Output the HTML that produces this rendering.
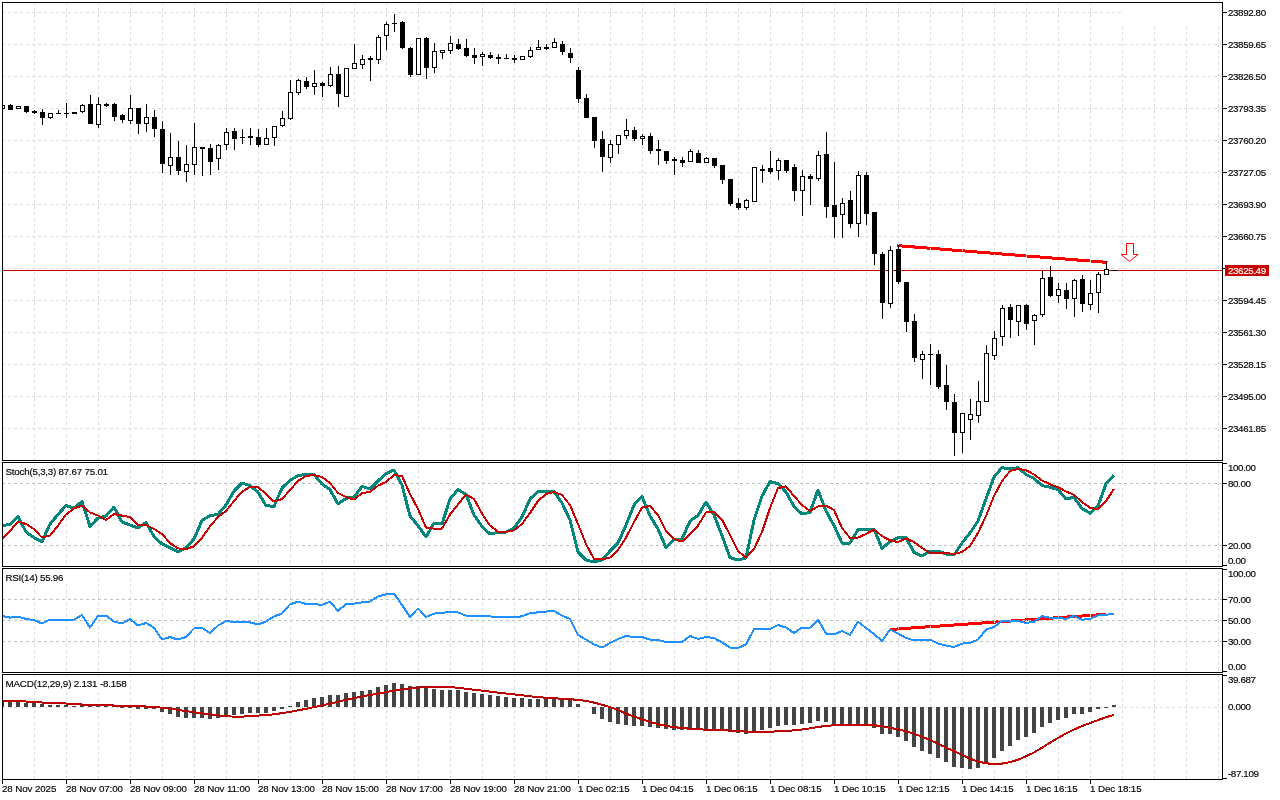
<!DOCTYPE html>
<html><head><meta charset="utf-8"><title>Chart</title>
<style>
html,body{margin:0;padding:0;background:#fff;width:1280px;height:800px;overflow:hidden}
svg{display:block}
text{font-family:'Liberation Sans', Arial, sans-serif}
</style></head><body>
<svg width="1280" height="800" viewBox="0 0 1280 800">
<defs><clipPath id="cmain"><rect x="3" y="3" width="1219" height="457"/></clipPath><clipPath id="cs"><rect x="3" y="463" width="1219" height="103"/></clipPath><clipPath id="cr"><rect x="3" y="569" width="1219" height="103"/></clipPath><clipPath id="cm"><rect x="3" y="675" width="1219" height="104"/></clipPath></defs>
<rect x="0" y="0" width="1280" height="800" fill="#fff"/>
<line x1="897" y1="245.6" x2="1107.5" y2="262.4" stroke="#ff0000" stroke-width="3" shape-rendering="crispEdges"/>
<line x1="890" y1="629.5" x2="1106" y2="614.3" stroke="#ff0000" stroke-width="3" shape-rendering="crispEdges"/>
<path d="M34.5 2V460M66.5 2V460M98.5 2V460M130.5 2V460M162.5 2V460M194.5 2V460M226.5 2V460M258.5 2V460M290.5 2V460M322.5 2V460M354.5 2V460M386.5 2V460M418.5 2V460M450.5 2V460M482.5 2V460M514.5 2V460M546.5 2V460M578.5 2V460M610.5 2V460M642.5 2V460M674.5 2V460M706.5 2V460M738.5 2V460M770.5 2V460M802.5 2V460M834.5 2V460M866.5 2V460M898.5 2V460M930.5 2V460M962.5 2V460M994.5 2V460M1026.5 2V460M1058.5 2V460M1090.5 2V460M1122.5 2V460M1154.5 2V460M1186.5 2V460M1218.5 2V460" stroke="#dcdcdc" stroke-width="1" stroke-dasharray="3 3" stroke-dashoffset="0" fill="none"/>
<path d="M2 12.5H1222" stroke="#dcdcdc" stroke-width="1" stroke-dasharray="3 3" fill="none"/>
<path d="M2 44.5H1222" stroke="#dcdcdc" stroke-width="1" stroke-dasharray="3 3" fill="none"/>
<path d="M2 76.5H1222" stroke="#dcdcdc" stroke-width="1" stroke-dasharray="3 3" fill="none"/>
<path d="M2 108.5H1222" stroke="#dcdcdc" stroke-width="1" stroke-dasharray="3 3" fill="none"/>
<path d="M2 140.5H1222" stroke="#dcdcdc" stroke-width="1" stroke-dasharray="3 3" fill="none"/>
<path d="M2 172.5H1222" stroke="#dcdcdc" stroke-width="1" stroke-dasharray="3 3" fill="none"/>
<path d="M2 204.5H1222" stroke="#dcdcdc" stroke-width="1" stroke-dasharray="3 3" fill="none"/>
<path d="M2 236.5H1222" stroke="#dcdcdc" stroke-width="1" stroke-dasharray="3 3" fill="none"/>
<path d="M2 268.5H1222" stroke="#dcdcdc" stroke-width="1" stroke-dasharray="3 3" fill="none"/>
<path d="M2 300.5H1222" stroke="#dcdcdc" stroke-width="1" stroke-dasharray="3 3" fill="none"/>
<path d="M2 332.5H1222" stroke="#dcdcdc" stroke-width="1" stroke-dasharray="3 3" fill="none"/>
<path d="M2 364.5H1222" stroke="#dcdcdc" stroke-width="1" stroke-dasharray="3 3" fill="none"/>
<path d="M2 396.5H1222" stroke="#dcdcdc" stroke-width="1" stroke-dasharray="3 3" fill="none"/>
<path d="M2 428.5H1222" stroke="#dcdcdc" stroke-width="1" stroke-dasharray="3 3" fill="none"/>
<rect x="1121" y="3" width="101" height="22" fill="#fff"/>
<path d="M34.5 462V566M66.5 462V566M98.5 462V566M130.5 462V566M162.5 462V566M194.5 462V566M226.5 462V566M258.5 462V566M290.5 462V566M322.5 462V566M354.5 462V566M386.5 462V566M418.5 462V566M450.5 462V566M482.5 462V566M514.5 462V566M546.5 462V566M578.5 462V566M610.5 462V566M642.5 462V566M674.5 462V566M706.5 462V566M738.5 462V566M770.5 462V566M802.5 462V566M834.5 462V566M866.5 462V566M898.5 462V566M930.5 462V566M962.5 462V566M994.5 462V566M1026.5 462V566M1058.5 462V566M1090.5 462V566M1122.5 462V566M1154.5 462V566M1186.5 462V566M1218.5 462V566" stroke="#dcdcdc" stroke-width="1" stroke-dasharray="3 3" stroke-dashoffset="4" fill="none"/>
<path d="M2 483.5H1222" stroke="#c0c0c0" stroke-width="1" stroke-dasharray="3 3" fill="none"/>
<path d="M2 545.5H1222" stroke="#c0c0c0" stroke-width="1" stroke-dasharray="3 3" fill="none"/>
<path d="M34.5 568V672M66.5 568V672M98.5 568V672M130.5 568V672M162.5 568V672M194.5 568V672M226.5 568V672M258.5 568V672M290.5 568V672M322.5 568V672M354.5 568V672M386.5 568V672M418.5 568V672M450.5 568V672M482.5 568V672M514.5 568V672M546.5 568V672M578.5 568V672M610.5 568V672M642.5 568V672M674.5 568V672M706.5 568V672M738.5 568V672M770.5 568V672M802.5 568V672M834.5 568V672M866.5 568V672M898.5 568V672M930.5 568V672M962.5 568V672M994.5 568V672M1026.5 568V672M1058.5 568V672M1090.5 568V672M1122.5 568V672M1154.5 568V672M1186.5 568V672M1218.5 568V672" stroke="#dcdcdc" stroke-width="1" stroke-dasharray="3 3" stroke-dashoffset="2" fill="none"/>
<path d="M2 599.5H1222" stroke="#c0c0c0" stroke-width="1" stroke-dasharray="3 3" fill="none"/>
<path d="M2 620.5H1222" stroke="#c0c0c0" stroke-width="1" stroke-dasharray="3 3" fill="none"/>
<path d="M2 641.5H1222" stroke="#c0c0c0" stroke-width="1" stroke-dasharray="3 3" fill="none"/>
<path d="M34.5 674V779M66.5 674V779M98.5 674V779M130.5 674V779M162.5 674V779M194.5 674V779M226.5 674V779M258.5 674V779M290.5 674V779M322.5 674V779M354.5 674V779M386.5 674V779M418.5 674V779M450.5 674V779M482.5 674V779M514.5 674V779M546.5 674V779M578.5 674V779M610.5 674V779M642.5 674V779M674.5 674V779M706.5 674V779M738.5 674V779M770.5 674V779M802.5 674V779M834.5 674V779M866.5 674V779M898.5 674V779M930.5 674V779M962.5 674V779M994.5 674V779M1026.5 674V779M1058.5 674V779M1090.5 674V779M1122.5 674V779M1154.5 674V779M1186.5 674V779M1218.5 674V779" stroke="#dcdcdc" stroke-width="1" stroke-dasharray="3 3" stroke-dashoffset="0" fill="none"/>
<path d="M2 707.5H1226" stroke="#dcdcdc" stroke-width="1" stroke-dasharray="3 3" fill="none"/>
<rect x="3" y="270" width="1219" height="1" fill="#c80000"/>
<g clip-path="url(#cmain)">
<path d="M2 105h1v4h-1zM0 105h5v4h-5zM10 104h1v6h-1zM8 105h5v5h-5zM18 106h1v3h-1zM16 106h5v3h-5zM26 106h1v7h-1zM24 106h5v6h-5zM34 110h1v4h-1zM32 111h5v2h-5zM42 109h1v16h-1zM40 112h5v6h-5zM50 113h1v6h-1zM48 113h5v5h-5zM58 110h1v4h-1zM56 113h5v1h-5zM66 103h1v15h-1zM64 113h5v1h-5zM74 112h1v2h-1zM72 112h5v2h-5zM82 104h1v9h-1zM80 105h5v7h-5zM90 95h1v29h-1zM88 104h5v20h-5zM98 97h1v31h-1zM96 104h5v21h-5zM106 103h1v4h-1zM104 104h5v2h-5zM114 103h1v18h-1zM112 104h5v13h-5zM122 114h1v9h-1zM120 115h5v5h-5zM130 95h1v29h-1zM128 108h5v13h-5zM138 108h1v26h-1zM136 108h5v16h-5zM146 104h1v28h-1zM144 117h5v7h-5zM154 110h1v27h-1zM152 117h5v12h-5zM162 121h1v52h-1zM160 129h5v35h-5zM170 133h1v42h-1zM168 157h5v9h-5zM178 141h1v34h-1zM176 157h5v14h-5zM186 145h1v37h-1zM184 164h5v8h-5zM194 123h1v52h-1zM192 147h5v18h-5zM202 147h1v29h-1zM200 147h5v2h-5zM210 144h1v31h-1zM208 148h5v14h-5zM218 144h1v26h-1zM216 145h5v14h-5zM226 128h1v22h-1zM224 132h5v13h-5zM234 128h1v22h-1zM232 131h5v8h-5zM242 129h1v15h-1zM240 137h5v1h-5zM250 128h1v17h-1zM248 136h5v2h-5zM258 129h1v18h-1zM256 137h5v8h-5zM266 128h1v17h-1zM264 138h5v7h-5zM274 126h1v20h-1zM272 126h5v12h-5zM282 111h1v16h-1zM280 118h5v8h-5zM290 80h1v40h-1zM288 92h5v27h-5zM298 79h1v16h-1zM296 80h5v13h-5zM306 77h1v12h-1zM304 81h5v6h-5zM314 70h1v25h-1zM312 83h5v4h-5zM322 82h1v15h-1zM320 83h5v3h-5zM330 67h1v20h-1zM328 74h5v12h-5zM338 66h1v41h-1zM336 74h5v20h-5zM346 68h1v29h-1zM344 68h5v29h-5zM354 44h1v25h-1zM352 63h5v6h-5zM362 55h1v14h-1zM360 59h5v6h-5zM370 56h1v25h-1zM368 58h5v2h-5zM378 35h1v29h-1zM376 37h5v23h-5zM386 22h1v28h-1zM384 24h5v12h-5zM394 14h1v18h-1zM392 23h5v1h-5zM402 21h1v28h-1zM400 22h5v26h-5zM410 47h1v30h-1zM408 48h5v27h-5zM418 38h1v37h-1zM416 38h5v37h-5zM426 37h1v42h-1zM424 38h5v30h-5zM434 43h1v30h-1zM432 51h5v17h-5zM442 50h1v9h-1zM440 50h5v3h-5zM450 36h1v18h-1zM448 43h5v8h-5zM458 39h1v11h-1zM456 44h5v5h-5zM466 39h1v18h-1zM464 48h5v8h-5zM474 48h1v16h-1zM472 55h5v3h-5zM482 52h1v14h-1zM480 54h5v3h-5zM490 52h1v7h-1zM488 55h5v3h-5zM498 54h1v10h-1zM496 57h5v2h-5zM506 54h1v5h-1zM504 58h5v1h-5zM514 55h1v8h-1zM512 58h5v2h-5zM522 56h1v4h-1zM520 56h5v4h-5zM530 47h1v11h-1zM528 50h5v7h-5zM538 40h1v10h-1zM536 47h5v3h-5zM546 44h1v6h-1zM544 47h5v2h-5zM554 38h1v10h-1zM552 42h5v6h-5zM562 41h1v14h-1zM560 44h5v8h-5zM570 48h1v15h-1zM568 53h5v5h-5zM578 67h1v36h-1zM576 70h5v29h-5zM586 94h1v24h-1zM584 98h5v20h-5zM594 117h1v31h-1zM592 117h5v24h-5zM602 131h1v41h-1zM600 139h5v18h-5zM610 140h1v23h-1zM608 144h5v14h-5zM618 135h1v19h-1zM616 135h5v10h-5zM626 119h1v20h-1zM624 130h5v6h-5zM634 127h1v14h-1zM632 130h5v9h-5zM642 134h1v11h-1zM640 136h5v3h-5zM650 133h1v21h-1zM648 136h5v15h-5zM658 140h1v25h-1zM656 149h5v2h-5zM666 151h1v13h-1zM664 151h5v10h-5zM674 157h1v18h-1zM672 159h5v2h-5zM682 157h1v10h-1zM680 160h5v3h-5zM690 149h1v13h-1zM688 151h5v11h-5zM698 150h1v13h-1zM696 153h5v10h-5zM706 157h1v6h-1zM704 158h5v5h-5zM714 158h1v10h-1zM712 158h5v8h-5zM722 165h1v19h-1zM720 165h5v15h-5zM730 179h1v27h-1zM728 179h5v25h-5zM738 198h1v12h-1zM736 203h5v5h-5zM746 199h1v11h-1zM744 200h5v8h-5zM754 167h1v35h-1zM752 167h5v35h-5zM762 165h1v18h-1zM760 169h5v2h-5zM770 151h1v23h-1zM768 168h5v4h-5zM778 158h1v22h-1zM776 160h5v11h-5zM786 160h1v13h-1zM784 160h5v11h-5zM794 164h1v37h-1zM792 167h5v24h-5zM802 170h1v46h-1zM800 176h5v15h-5zM810 174h1v31h-1zM808 176h5v3h-5zM818 151h1v30h-1zM816 155h5v24h-5zM826 132h1v86h-1zM824 154h5v53h-5zM834 162h1v76h-1zM832 205h5v12h-5zM842 198h1v40h-1zM840 203h5v12h-5zM850 191h1v37h-1zM848 200h5v24h-5zM858 171h1v66h-1zM856 175h5v49h-5zM866 172h1v53h-1zM864 175h5v39h-5zM874 212h1v53h-1zM872 212h5v42h-5zM882 252h1v67h-1zM880 254h5v49h-5zM890 246h1v62h-1zM888 250h5v54h-5zM898 245h1v39h-1zM896 249h5v33h-5zM906 282h1v50h-1zM904 282h5v40h-5zM914 314h1v48h-1zM912 321h5v37h-5zM922 351h1v28h-1zM920 354h5v6h-5zM930 344h1v41h-1zM928 354h5v1h-5zM938 350h1v39h-1zM936 354h5v33h-5zM946 365h1v45h-1zM944 385h5v17h-5zM954 394h1v62h-1zM952 402h5v31h-5zM962 413h1v40h-1zM960 413h5v20h-5zM970 399h1v41h-1zM968 414h5v6h-5zM978 381h1v42h-1zM976 401h5v15h-5zM986 345h1v57h-1zM984 353h5v49h-5zM994 331h1v29h-1zM992 338h5v18h-5zM1002 305h1v41h-1zM1000 308h5v29h-5zM1010 304h1v34h-1zM1008 307h5v13h-5zM1018 305h1v31h-1zM1016 305h5v17h-5zM1026 304h1v26h-1zM1024 305h5v19h-5zM1034 314h1v31h-1zM1032 315h5v6h-5zM1042 271h1v46h-1zM1040 278h5v37h-5zM1050 266h1v31h-1zM1048 277h5v19h-5zM1058 283h1v20h-1zM1056 289h5v7h-5zM1066 283h1v26h-1zM1064 290h5v9h-5zM1074 279h1v38h-1zM1072 280h5v19h-5zM1082 275h1v37h-1zM1080 279h5v25h-5zM1090 280h1v30h-1zM1088 293h5v12h-5zM1098 272h1v41h-1zM1096 274h5v19h-5zM1106 262h1v13h-1zM1104 269h5v6h-5zM1114 270h1v1h-1zM1112 270h5v1h-5z" fill="#000"/>
<path d="M1 106h3v2h-3zM17 107h3v1h-3zM49 114h3v3h-3zM81 106h3v5h-3zM97 105h3v19h-3zM129 109h3v11h-3zM145 118h3v5h-3zM169 158h3v7h-3zM185 165h3v6h-3zM193 148h3v16h-3zM217 146h3v12h-3zM225 133h3v11h-3zM265 139h3v5h-3zM273 127h3v10h-3zM281 119h3v6h-3zM289 93h3v25h-3zM297 81h3v11h-3zM313 84h3v2h-3zM329 75h3v10h-3zM345 69h3v27h-3zM353 64h3v4h-3zM361 60h3v4h-3zM377 38h3v21h-3zM385 25h3v10h-3zM417 39h3v35h-3zM433 52h3v15h-3zM441 51h3v1h-3zM449 44h3v6h-3zM481 55h3v1h-3zM521 57h3v2h-3zM529 51h3v5h-3zM537 48h3v1h-3zM553 43h3v4h-3zM609 145h3v12h-3zM617 136h3v8h-3zM625 131h3v4h-3zM641 137h3v1h-3zM689 152h3v9h-3zM705 159h3v3h-3zM745 201h3v6h-3zM753 168h3v33h-3zM777 161h3v9h-3zM801 177h3v13h-3zM817 156h3v22h-3zM841 204h3v10h-3zM857 176h3v47h-3zM889 251h3v52h-3zM921 355h3v4h-3zM961 414h3v18h-3zM969 415h3v4h-3zM977 402h3v13h-3zM985 354h3v47h-3zM993 339h3v16h-3zM1001 309h3v27h-3zM1017 306h3v15h-3zM1033 316h3v4h-3zM1041 279h3v35h-3zM1057 290h3v5h-3zM1073 281h3v17h-3zM1089 294h3v10h-3zM1097 275h3v17h-3zM1105 270h3v4h-3z" fill="#fff"/>
</g>
<polygon points="1126.5,243.5 1133.5,243.5 1133.5,254.5 1138,254.5 1129.5,261.5 1121,254.5 1126.5,254.5" fill="#fff" stroke="#ff0000" stroke-width="1"/>
<g clip-path="url(#cs)">
<polyline points="2,525.60 10,524.40 18,516.40 26,532.00 34,537.60 42,541.60 50,524.00 58,514.40 66,505.60 74,508.00 82,501.60 90,526.40 98,518.00 106,516.00 114,507.00 122,522.00 130,525.00 138,528.00 146,522.40 154,536.40 162,544.00 170,547.60 178,552.00 186,547.60 194,539.00 202,520.40 210,515.60 218,514.40 226,505.00 234,491.00 242,483.00 250,485.60 258,492.00 266,505.60 274,506.40 282,488.00 290,480.40 298,475.60 306,474.40 314,474.40 322,484.00 330,489.60 338,504.00 346,498.40 354,497.00 362,486.40 370,489.00 378,481.00 386,473.60 394,470.00 402,485.00 410,516.00 418,525.60 426,537.00 434,523.00 442,524.00 450,499.00 458,489.60 466,494.40 474,515.00 482,526.40 490,534.00 498,532.40 506,532.00 514,528.00 522,517.00 530,499.00 538,491.60 546,491.60 554,491.60 562,503.00 570,520.00 578,552.00 586,560.00 594,562.00 602,560.00 610,551.00 618,543.00 626,525.00 634,505.00 642,496.40 650,516.00 658,529.00 666,547.60 674,539.60 682,539.00 690,521.00 698,515.60 706,502.00 714,515.00 722,535.60 730,557.60 738,560.00 746,558.00 754,520.00 762,496.00 770,481.60 778,483.60 786,492.00 794,506.40 802,514.00 810,512.40 818,490.00 826,511.00 834,525.60 842,543.00 850,543.00 858,529.60 866,529.00 874,529.00 882,548.40 890,541.60 898,537.60 906,537.60 914,552.40 922,556.00 930,551.00 938,551.00 946,554.00 954,555.00 962,543.00 970,533.00 978,521.00 986,499.00 994,477.00 1002,467.60 1010,469.00 1018,467.60 1026,474.50 1034,478.40 1042,485.60 1050,487.20 1058,489.60 1066,499.00 1074,497.20 1082,508.60 1090,513.20 1098,506.00 1106,483.70 1114,475.10" fill="none" stroke="#00867a" stroke-width="3" stroke-linejoin="round" stroke-linecap="butt" shape-rendering="crispEdges" />
<polyline points="2,539.00 10,531.00 18,521.60 26,524.00 34,529.00 42,537.60 50,535.60 58,525.60 66,514.40 74,508.40 82,505.60 90,512.40 98,515.60 106,520.00 114,514.00 122,515.60 130,517.00 138,525.00 146,525.00 154,529.00 162,534.00 170,543.00 178,548.40 186,549.00 194,546.40 202,537.60 210,526.40 218,517.00 226,511.00 234,501.00 242,491.60 250,487.00 258,487.00 266,494.00 274,501.60 282,499.00 290,490.00 298,481.00 306,476.00 314,475.00 322,477.00 330,483.00 338,493.00 346,497.00 354,499.60 362,493.00 370,492.00 378,485.60 386,482.00 394,475.00 402,476.00 410,494.00 418,509.00 426,527.60 434,528.60 442,528.60 450,514.40 458,504.40 466,494.40 474,499.00 482,513.60 490,525.60 498,531.60 506,531.60 514,530.40 522,524.00 530,513.00 538,501.00 546,494.00 554,492.00 562,495.00 570,505.00 578,524.00 586,544.00 594,559.00 602,559.60 610,557.60 618,550.00 626,537.60 634,522.00 642,507.60 650,506.00 658,515.00 666,531.00 674,539.00 682,541.60 690,534.00 698,525.60 706,512.40 714,512.00 722,519.60 730,535.00 738,551.00 746,557.60 754,549.00 762,532.00 770,508.00 778,488.00 786,486.40 794,496.00 802,505.00 810,511.00 818,506.40 826,505.60 834,510.00 842,528.00 850,538.00 858,537.60 866,534.00 874,529.60 882,536.00 890,540.40 898,542.00 906,538.40 914,542.00 922,548.00 930,553.00 938,553.00 946,553.00 954,554.00 962,552.00 970,546.00 978,533.00 986,516.00 994,496.00 1002,481.00 1010,471.00 1018,469.00 1026,470.10 1034,474.50 1042,480.40 1050,484.30 1058,487.20 1066,491.50 1074,494.80 1082,502.00 1090,507.70 1098,509.50 1106,501.10 1114,488.90" fill="none" stroke="#c80000" stroke-width="2" stroke-linejoin="round" stroke-linecap="butt" shape-rendering="crispEdges" />
</g>
<g clip-path="url(#cr)">
<polyline points="2,616.00 10,617.60 18,616.60 26,619.00 34,620.00 42,623.60 50,619.60 58,619.60 66,619.60 74,619.60 82,615.00 90,627.60 98,615.60 106,615.60 114,621.60 122,623.60 130,619.00 138,625.60 146,623.00 154,627.60 162,639.60 170,637.00 178,639.60 186,637.00 194,628.40 202,628.00 210,633.00 218,625.60 226,621.00 234,622.00 242,622.00 250,622.40 258,624.40 266,621.60 274,616.40 282,613.60 290,604.40 298,601.60 306,604.00 314,604.00 322,605.00 330,601.60 338,611.00 346,604.00 354,603.60 362,602.40 370,601.60 378,596.40 386,594.40 394,593.60 402,605.00 410,617.00 418,608.40 426,617.00 434,613.60 442,613.00 450,611.60 458,612.40 466,615.60 474,616.00 482,616.00 490,616.40 498,617.00 506,617.00 514,617.00 522,616.40 530,613.00 538,612.40 546,611.60 554,611.00 562,615.60 570,619.00 578,635.00 586,639.60 594,644.40 602,647.60 610,643.00 618,639.00 626,636.00 634,637.00 642,637.00 650,639.60 658,640.00 666,642.00 674,642.00 682,642.00 690,636.00 698,639.00 706,637.00 714,638.00 722,642.40 730,647.60 738,648.00 746,644.40 754,629.00 762,629.00 770,629.00 778,625.00 786,627.60 794,633.00 802,627.60 810,627.60 818,619.60 826,633.60 834,634.40 842,631.00 850,635.00 858,621.60 866,628.00 874,634.00 882,641.00 890,629.60 898,633.60 906,638.00 914,640.40 922,640.00 930,639.60 938,643.60 946,645.60 954,647.00 962,643.60 970,643.00 978,639.60 986,629.60 994,627.00 1002,621.00 1010,621.60 1018,621.00 1026,623.00 1034,621.80 1042,616.00 1050,617.80 1058,617.80 1066,619.00 1074,616.00 1082,619.80 1090,618.80 1098,615.50 1106,614.80 1114,613.80" fill="none" stroke="#1e90ff" stroke-width="2" stroke-linejoin="round" stroke-linecap="butt" shape-rendering="crispEdges" />
</g>
<g clip-path="url(#cm)">
<path d="M0 702h4v5h-4zM8 702h4v5h-4zM16 702h4v5h-4zM24 703h4v4h-4zM32 703h4v4h-4zM40 704h4v3h-4zM48 705h4v2h-4zM56 705h4v2h-4zM64 705h4v2h-4zM72 706h4v1h-4zM80 705h4v2h-4zM88 705h4v2h-4zM96 705h4v2h-4zM104 705h4v2h-4zM112 706h4v1h-4zM120 707h4v1h-4zM128 707h4v1h-4zM136 707h4v2h-4zM144 707h4v2h-4zM152 707h4v2h-4zM160 707h4v5h-4zM168 707h4v7h-4zM176 707h4v10h-4zM184 707h4v11h-4zM192 707h4v11h-4zM200 707h4v11h-4zM208 707h4v12h-4zM216 707h4v11h-4zM224 707h4v10h-4zM232 707h4v8h-4zM240 707h4v7h-4zM248 707h4v6h-4zM256 707h4v6h-4zM264 707h4v6h-4zM272 707h4v4h-4zM280 707h4v2h-4zM288 706h4v1h-4zM296 702h4v5h-4zM304 700h4v7h-4zM312 698h4v9h-4zM320 697h4v10h-4zM328 695h4v12h-4zM336 695h4v12h-4zM344 693h4v14h-4zM352 692h4v15h-4zM360 691h4v16h-4zM368 690h4v17h-4zM376 687h4v20h-4zM384 685h4v22h-4zM392 683h4v24h-4zM400 684h4v23h-4zM408 686h4v21h-4zM416 686h4v21h-4zM424 687h4v20h-4zM432 689h4v18h-4zM440 690h4v17h-4zM448 690h4v17h-4zM456 690h4v17h-4zM464 692h4v15h-4zM472 693h4v14h-4zM480 694h4v13h-4zM488 695h4v12h-4zM496 696h4v11h-4zM504 697h4v10h-4zM512 698h4v9h-4zM520 698h4v9h-4zM528 699h4v8h-4zM536 699h4v8h-4zM544 699h4v8h-4zM552 699h4v8h-4zM560 699h4v8h-4zM568 700h4v7h-4zM576 704h4v3h-4zM592 707h4v7h-4zM600 707h4v12h-4zM608 707h4v15h-4zM616 707h4v17h-4zM624 707h4v18h-4zM632 707h4v19h-4zM640 707h4v19h-4zM648 707h4v20h-4zM656 707h4v21h-4zM664 707h4v22h-4zM672 707h4v23h-4zM680 707h4v23h-4zM688 707h4v22h-4zM696 707h4v22h-4zM704 707h4v22h-4zM712 707h4v22h-4zM720 707h4v23h-4zM728 707h4v25h-4zM736 707h4v26h-4zM744 707h4v27h-4zM752 707h4v25h-4zM760 707h4v23h-4zM768 707h4v21h-4zM776 707h4v19h-4zM784 707h4v18h-4zM792 707h4v18h-4zM800 707h4v17h-4zM808 707h4v16h-4zM816 707h4v14h-4zM824 707h4v15h-4zM832 707h4v17h-4zM840 707h4v18h-4zM848 707h4v19h-4zM856 707h4v17h-4zM864 707h4v17h-4zM872 707h4v21h-4zM880 707h4v27h-4zM888 707h4v27h-4zM896 707h4v30h-4zM904 707h4v34h-4zM912 707h4v40h-4zM920 707h4v44h-4zM928 707h4v47h-4zM936 707h4v51h-4zM944 707h4v55h-4zM952 707h4v60h-4zM960 707h4v61h-4zM968 707h4v62h-4zM976 707h4v61h-4zM984 707h4v56h-4zM992 707h4v51h-4zM1000 707h4v44h-4zM1008 707h4v39h-4zM1016 707h4v33h-4zM1024 707h4v30h-4zM1032 707h4v26h-4zM1040 707h4v20h-4zM1048 707h4v16h-4zM1056 707h4v13h-4zM1064 707h4v11h-4zM1072 707h4v7h-4zM1080 707h4v7h-4zM1088 707h4v5h-4zM1096 707h4v2h-4zM1104 707h4v1h-4zM1112 705h4v2h-4z" fill="#444444"/>
<polyline points="2,700.80 10,701.00 18,701.20 26,701.50 34,702.00 42,702.50 50,702.80 58,703.20 66,703.50 74,704.00 82,704.50 90,704.80 98,705.00 106,705.20 114,705.50 122,706.00 130,706.00 138,706.20 146,706.50 154,707.00 162,707.72 170,708.61 178,709.83 186,711.06 194,712.17 202,713.28 210,714.39 218,715.39 226,716.28 234,716.61 242,716.61 250,716.17 258,715.61 266,715.06 274,714.28 282,713.17 290,711.94 298,710.39 306,708.83 314,707.17 322,705.50 330,703.61 338,701.72 346,699.83 354,698.06 362,696.39 370,695.06 378,693.61 386,692.17 394,690.61 402,689.39 410,688.39 418,687.61 426,687.06 434,686.83 442,686.83 450,687.17 458,687.72 466,688.72 474,689.72 482,690.61 490,691.61 498,692.61 506,693.50 514,694.39 522,695.28 530,696.28 538,697.06 546,697.72 554,698.28 562,698.72 570,699.17 578,699.94 586,700.94 594,702.61 602,704.72 610,707.17 618,709.83 626,713.61 634,716.51 642,719.34 650,721.86 658,724.13 666,725.85 674,727.10 682,728.05 690,728.71 698,729.26 706,729.63 714,729.95 722,730.21 730,730.62 738,731.10 746,731.57 754,731.75 762,731.79 770,731.67 778,731.34 786,730.88 794,730.38 802,729.54 810,728.42 818,726.96 826,725.93 834,725.31 842,724.91 850,724.93 858,724.82 866,724.75 874,725.15 882,726.30 890,727.80 898,729.40 906,731.30 914,733.81 922,736.61 930,739.98 938,743.73 946,747.53 954,751.19 962,754.97 970,758.56 978,761.53 986,763.29 994,763.99 1002,763.60 1010,762.17 1018,759.71 1026,756.34 1034,752.40 1042,747.72 1050,742.75 1058,737.96 1066,733.54 1074,729.56 1082,726.07 1090,723.03 1098,720.08 1106,717.25 1114,714.86" fill="none" stroke="#c00000" stroke-width="2" stroke-linejoin="round" stroke-linecap="butt" shape-rendering="crispEdges" />
</g>
<rect x="2" y="2" width="1221" height="1" fill="#000"/><rect x="2" y="460" width="1221" height="1" fill="#000"/><rect x="2" y="2" width="1" height="459" fill="#000"/><rect x="1222" y="2" width="1" height="459" fill="#000"/>
<rect x="2" y="462" width="1221" height="1" fill="#000"/><rect x="2" y="566" width="1221" height="1" fill="#000"/><rect x="2" y="462" width="1" height="105" fill="#000"/><rect x="1222" y="462" width="1" height="105" fill="#000"/>
<rect x="2" y="568" width="1221" height="1" fill="#000"/><rect x="2" y="672" width="1221" height="1" fill="#000"/><rect x="2" y="568" width="1" height="105" fill="#000"/><rect x="1222" y="568" width="1" height="105" fill="#000"/>
<rect x="2" y="674" width="1221" height="1" fill="#000"/><rect x="2" y="779" width="1221" height="1" fill="#000"/><rect x="2" y="674" width="1" height="106" fill="#000"/><rect x="1222" y="674" width="1" height="106" fill="#000"/>
<rect x="1222" y="12" width="5" height="1" fill="#000"/>
<text x="1228" y="16" font-size="9.8" fill="#000" letter-spacing="-0.39" stroke="#000" stroke-width="0.15" >23892.80</text>
<rect x="1222" y="44" width="5" height="1" fill="#000"/>
<text x="1228" y="48" font-size="9.8" fill="#000" letter-spacing="-0.39" stroke="#000" stroke-width="0.15" >23859.65</text>
<rect x="1222" y="76" width="5" height="1" fill="#000"/>
<text x="1228" y="80" font-size="9.8" fill="#000" letter-spacing="-0.39" stroke="#000" stroke-width="0.15" >23826.50</text>
<rect x="1222" y="108" width="5" height="1" fill="#000"/>
<text x="1228" y="112" font-size="9.8" fill="#000" letter-spacing="-0.39" stroke="#000" stroke-width="0.15" >23793.35</text>
<rect x="1222" y="140" width="5" height="1" fill="#000"/>
<text x="1228" y="144" font-size="9.8" fill="#000" letter-spacing="-0.39" stroke="#000" stroke-width="0.15" >23760.20</text>
<rect x="1222" y="172" width="5" height="1" fill="#000"/>
<text x="1228" y="176" font-size="9.8" fill="#000" letter-spacing="-0.39" stroke="#000" stroke-width="0.15" >23727.05</text>
<rect x="1222" y="204" width="5" height="1" fill="#000"/>
<text x="1228" y="208" font-size="9.8" fill="#000" letter-spacing="-0.39" stroke="#000" stroke-width="0.15" >23693.90</text>
<rect x="1222" y="236" width="5" height="1" fill="#000"/>
<text x="1228" y="240" font-size="9.8" fill="#000" letter-spacing="-0.39" stroke="#000" stroke-width="0.15" >23660.75</text>
<rect x="1222" y="268" width="5" height="1" fill="#000"/>
<rect x="1222" y="300" width="5" height="1" fill="#000"/>
<text x="1228" y="304" font-size="9.8" fill="#000" letter-spacing="-0.39" stroke="#000" stroke-width="0.15" >23594.45</text>
<rect x="1222" y="332" width="5" height="1" fill="#000"/>
<text x="1228" y="336" font-size="9.8" fill="#000" letter-spacing="-0.39" stroke="#000" stroke-width="0.15" >23561.30</text>
<rect x="1222" y="364" width="5" height="1" fill="#000"/>
<text x="1228" y="368" font-size="9.8" fill="#000" letter-spacing="-0.39" stroke="#000" stroke-width="0.15" >23528.15</text>
<rect x="1222" y="396" width="5" height="1" fill="#000"/>
<text x="1228" y="400" font-size="9.8" fill="#000" letter-spacing="-0.39" stroke="#000" stroke-width="0.15" >23495.00</text>
<rect x="1222" y="428" width="5" height="1" fill="#000"/>
<text x="1228" y="432" font-size="9.8" fill="#000" letter-spacing="-0.39" stroke="#000" stroke-width="0.15" >23461.85</text>
<rect x="1225" y="265" width="44" height="11" fill="#c80000"/>
<text x="1228" y="274" font-size="9.8" fill="#fff" letter-spacing="-0.39" stroke="#fff" stroke-width="0.15" >23625.49</text>
<rect x="1222" y="463" width="5" height="1" fill="#000"/>
<rect x="1222" y="483" width="5" height="1" fill="#000"/>
<rect x="1222" y="545" width="5" height="1" fill="#000"/>
<rect x="1222" y="565" width="5" height="1" fill="#000"/>
<text x="1228" y="471" font-size="9.8" fill="#000" letter-spacing="-0.39" stroke="#000" stroke-width="0.15" >100.00</text>
<text x="1228" y="487" font-size="9.8" fill="#000" letter-spacing="-0.39" stroke="#000" stroke-width="0.15" >80.00</text>
<text x="1228" y="549" font-size="9.8" fill="#000" letter-spacing="-0.39" stroke="#000" stroke-width="0.15" >20.00</text>
<text x="1228" y="564" font-size="9.8" fill="#000" letter-spacing="-0.39" stroke="#000" stroke-width="0.15" >0.00</text>
<rect x="1222" y="569" width="5" height="1" fill="#000"/>
<rect x="1222" y="599" width="5" height="1" fill="#000"/>
<rect x="1222" y="620" width="5" height="1" fill="#000"/>
<rect x="1222" y="641" width="5" height="1" fill="#000"/>
<rect x="1222" y="671" width="5" height="1" fill="#000"/>
<text x="1228" y="577" font-size="9.8" fill="#000" letter-spacing="-0.39" stroke="#000" stroke-width="0.15" >100.00</text>
<text x="1228" y="603" font-size="9.8" fill="#000" letter-spacing="-0.39" stroke="#000" stroke-width="0.15" >70.00</text>
<text x="1228" y="624" font-size="9.8" fill="#000" letter-spacing="-0.39" stroke="#000" stroke-width="0.15" >50.00</text>
<text x="1228" y="645" font-size="9.8" fill="#000" letter-spacing="-0.39" stroke="#000" stroke-width="0.15" >30.00</text>
<text x="1228" y="670" font-size="9.8" fill="#000" letter-spacing="-0.39" stroke="#000" stroke-width="0.15" >0.00</text>
<rect x="1222" y="675" width="5" height="1" fill="#000"/>
<rect x="1222" y="778" width="5" height="1" fill="#000"/>
<text x="1228" y="683" font-size="9.8" fill="#000" letter-spacing="-0.39" stroke="#000" stroke-width="0.15" >39.687</text>
<text x="1228" y="710" font-size="9.8" fill="#000" letter-spacing="-0.39" stroke="#000" stroke-width="0.15" >0.000</text>
<text x="1228" y="777" font-size="9.8" fill="#000" letter-spacing="-0.39" stroke="#000" stroke-width="0.15" >-87.109</text>
<rect x="2" y="779" width="1" height="5" fill="#000"/>
<text x="2" y="792" font-size="9.8" fill="#000" letter-spacing="-0.12" stroke="#000" stroke-width="0.15" >28 Nov 2025</text>
<rect x="66" y="779" width="1" height="5" fill="#000"/>
<text x="66" y="792" font-size="9.8" fill="#000" letter-spacing="-0.12" stroke="#000" stroke-width="0.15" >28 Nov 07:00</text>
<rect x="130" y="779" width="1" height="5" fill="#000"/>
<text x="130" y="792" font-size="9.8" fill="#000" letter-spacing="-0.12" stroke="#000" stroke-width="0.15" >28 Nov 09:00</text>
<rect x="194" y="779" width="1" height="5" fill="#000"/>
<text x="194" y="792" font-size="9.8" fill="#000" letter-spacing="-0.12" stroke="#000" stroke-width="0.15" >28 Nov 11:00</text>
<rect x="258" y="779" width="1" height="5" fill="#000"/>
<text x="258" y="792" font-size="9.8" fill="#000" letter-spacing="-0.12" stroke="#000" stroke-width="0.15" >28 Nov 13:00</text>
<rect x="322" y="779" width="1" height="5" fill="#000"/>
<text x="322" y="792" font-size="9.8" fill="#000" letter-spacing="-0.12" stroke="#000" stroke-width="0.15" >28 Nov 15:00</text>
<rect x="386" y="779" width="1" height="5" fill="#000"/>
<text x="386" y="792" font-size="9.8" fill="#000" letter-spacing="-0.12" stroke="#000" stroke-width="0.15" >28 Nov 17:00</text>
<rect x="450" y="779" width="1" height="5" fill="#000"/>
<text x="450" y="792" font-size="9.8" fill="#000" letter-spacing="-0.12" stroke="#000" stroke-width="0.15" >28 Nov 19:00</text>
<rect x="514" y="779" width="1" height="5" fill="#000"/>
<text x="514" y="792" font-size="9.8" fill="#000" letter-spacing="-0.12" stroke="#000" stroke-width="0.15" >28 Nov 21:00</text>
<rect x="578" y="779" width="1" height="5" fill="#000"/>
<text x="578" y="792" font-size="9.8" fill="#000" letter-spacing="-0.12" stroke="#000" stroke-width="0.15" >1 Dec 02:15</text>
<rect x="642" y="779" width="1" height="5" fill="#000"/>
<text x="642" y="792" font-size="9.8" fill="#000" letter-spacing="-0.12" stroke="#000" stroke-width="0.15" >1 Dec 04:15</text>
<rect x="706" y="779" width="1" height="5" fill="#000"/>
<text x="706" y="792" font-size="9.8" fill="#000" letter-spacing="-0.12" stroke="#000" stroke-width="0.15" >1 Dec 06:15</text>
<rect x="770" y="779" width="1" height="5" fill="#000"/>
<text x="770" y="792" font-size="9.8" fill="#000" letter-spacing="-0.12" stroke="#000" stroke-width="0.15" >1 Dec 08:15</text>
<rect x="834" y="779" width="1" height="5" fill="#000"/>
<text x="834" y="792" font-size="9.8" fill="#000" letter-spacing="-0.12" stroke="#000" stroke-width="0.15" >1 Dec 10:15</text>
<rect x="898" y="779" width="1" height="5" fill="#000"/>
<text x="898" y="792" font-size="9.8" fill="#000" letter-spacing="-0.12" stroke="#000" stroke-width="0.15" >1 Dec 12:15</text>
<rect x="962" y="779" width="1" height="5" fill="#000"/>
<text x="962" y="792" font-size="9.8" fill="#000" letter-spacing="-0.12" stroke="#000" stroke-width="0.15" >1 Dec 14:15</text>
<rect x="1026" y="779" width="1" height="5" fill="#000"/>
<text x="1026" y="792" font-size="9.8" fill="#000" letter-spacing="-0.12" stroke="#000" stroke-width="0.15" >1 Dec 16:15</text>
<rect x="1090" y="779" width="1" height="5" fill="#000"/>
<text x="1090" y="792" font-size="9.8" fill="#000" letter-spacing="-0.12" stroke="#000" stroke-width="0.15" >1 Dec 18:15</text>
<rect x="3" y="466" width="108" height="11" fill="#fff"/>
<text x="5.5" y="475" font-size="9.8" fill="#000" letter-spacing="-0.23" stroke="#000" stroke-width="0.15" >Stoch(5,3,3) 87.67 75.01</text>
<rect x="3" y="572" width="64" height="11" fill="#fff"/>
<text x="5.5" y="581" font-size="9.8" fill="#000" letter-spacing="-0.25" stroke="#000" stroke-width="0.15" >RSI(14) 55.96</text>
<rect x="3" y="678" width="127" height="11" fill="#fff"/>
<text x="5.5" y="687" font-size="9.8" fill="#000" letter-spacing="-0.18" stroke="#000" stroke-width="0.15" >MACD(12,29,9) 2.131 -8.158</text>
</svg>
</body></html>
